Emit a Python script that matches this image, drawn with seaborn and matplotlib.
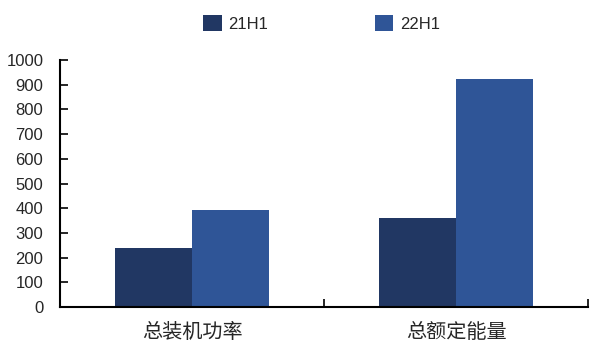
import matplotlib
matplotlib.use("Agg")
import matplotlib.pyplot as plt
import seaborn as sns
import pandas as pd
from matplotlib.patches import Patch

categories = ["总装机功率", "总额定能量"]
series = ["21H1", "22H1"]
values_21h1 = [239, 360]
values_22h1 = [393, 923]
yticks = [0, 100, 200, 300, 400, 500, 600, 700, 800, 900, 1000]
colors = ["#213763", "#2F5597"]

df = pd.DataFrame({
    "category": categories * 2,
    "series": [series[0]] * 2 + [series[1]] * 2,
    "value": values_21h1 + values_22h1,
})

sns.set_theme(style="white")
plt.rcParams["font.family"] = ["Liberation Sans", "Noto Sans CJK SC", "DejaVu Sans"]

fig = plt.figure(figsize=(5.9, 3.43), dpi=100)
ax = fig.add_axes([0.1017, 0.105, 0.8949, 0.72])

sns.barplot(data=df, x="category", y="value", hue="series", order=categories,
            hue_order=series, palette=colors, width=0.58, gap=0, saturation=1,
            edgecolor="none", linewidth=0, legend=False, ax=ax)

ax.set_xlim(-0.5, 1.5)
ax.set_ylim(0, 1000)
ax.set_yticks(yticks)
ax.set_yticklabels([str(t) for t in yticks], fontsize=12)
ax.set_xlabel("")
ax.set_ylabel("")
ax.set_xticks([0, 1])
ax.set_xticklabels(categories, fontsize=14.5, family=["Noto Sans CJK SC", "DejaVu Sans"])
ax.set_xticks([0.5, 1.5], minor=True)
ax.tick_params(axis="x", which="major", length=0, pad=11)
ax.tick_params(axis="x", which="minor", direction="in", length=6, width=1.2, color="black", bottom=True)
ax.tick_params(axis="y", direction="in", length=6, width=1.2, color="black", left=True, pad=12)

for s in ["top", "right"]:
    ax.spines[s].set_visible(False)
for s in ["left", "bottom"]:
    ax.spines[s].set_color("black")
    ax.spines[s].set_linewidth(1.5)

handles = [Patch(facecolor=c, edgecolor="none") for c in colors]
fig.legend(handles, series, loc="upper center", bbox_to_anchor=(0.545, 1.0), ncol=2,
           frameon=False, fontsize=12, handlelength=1.1, handleheight=1.1,
           columnspacing=6.4, handletextpad=0.4)

fig.savefig("out.png", dpi=100)
